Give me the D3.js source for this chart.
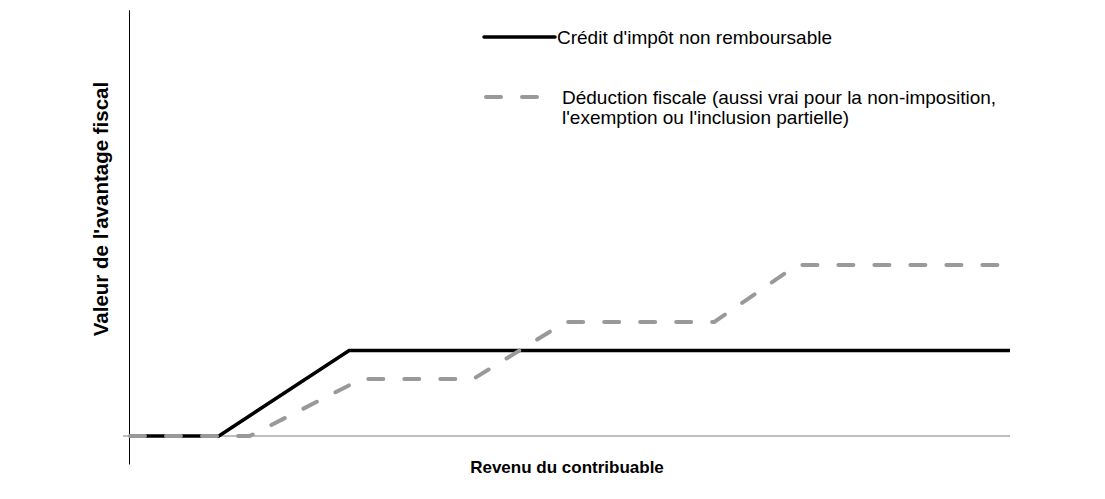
<!DOCTYPE html>
<html>
<head>
<meta charset="utf-8">
<script src="https://cdn.jsdelivr.net/npm/d3@7"></script>
<style>
  body { margin: 0; background: #fff; }
  text { font-family: "Liberation Sans", Arial, sans-serif; }
</style>
</head>
<body>
<div id="chart"></div>
<script>
// income (abstract units) and benefit value (abstract units)
var creditX = [0, 10.1, 24.9, 100];
var creditY = [0, 0, 1.5, 1.5];
var deductionX = [0, 13.6, 26.3, 39, 49.5, 66.4, 75.8, 98.9];
var deductionY = [0, 0, 1, 1, 2, 2, 3, 3];
var seriesNames = ["Crédit d'impôt non remboursable",
  "Déduction fiscale (aussi vrai pour la non-imposition,|l'exemption ou l'inclusion partielle)"];
var xTitle = "Revenu du contribuable";
var yTitle = "Valeur de l'avantage fiscal";

var W = 1105, H = 499;
var x = d3.scaleLinear().domain([0, 100]).range([130, 1010]);
var y = d3.scaleLinear().domain([0, 1]).range([436, 379]);

var svg = d3.select("#chart").append("svg")
  .attr("width", W).attr("height", H);

// axes
svg.append("line")
  .attr("x1", x(-0.8)).attr("x2", x(100))
  .attr("y1", y(0)).attr("y2", y(0))
  .attr("stroke", "#808080").attr("stroke-width", 1);
svg.append("line")
  .attr("x1", 129.5).attr("x2", 129.5)
  .attr("y1", y(7.47)).attr("y2", y(-0.5))
  .attr("stroke", "#000").attr("stroke-width", 1);

var line = d3.line()
  .x(function(d) { return x(d[0]); })
  .y(function(d) { return y(d[1]); });

var credit = creditX.map(function(v, i) { return [v, creditY[i]]; });
var deduction = deductionX.map(function(v, i) { return [v, deductionY[i]]; });

svg.append("path").datum(credit)
  .attr("d", line)
  .attr("fill", "none").attr("stroke", "#000")
  .attr("stroke-width", 3.5).attr("stroke-linejoin", "miter");

svg.append("path").datum(deduction)
  .attr("d", line)
  .attr("fill", "none").attr("stroke", "#999")
  .attr("stroke-width", 4).attr("stroke-linecap", "round")
  .attr("stroke-dasharray", "15,21");

// legend
svg.append("line")
  .attr("x1", 484).attr("x2", 555).attr("y1", 37).attr("y2", 37)
  .attr("stroke", "#000").attr("stroke-width", 3.5).attr("stroke-linecap", "round");
svg.append("text").attr("x", 557).attr("y", 44)
  .style("font-size", "19px").text(seriesNames[0]);

svg.append("line")
  .attr("x1", 486).attr("x2", 540).attr("y1", 97).attr("y2", 97)
  .attr("stroke", "#999").attr("stroke-width", 4).attr("stroke-linecap", "round")
  .attr("stroke-dasharray", "15,21");
var leg2 = svg.append("text").attr("x", 562).attr("y", 104)
  .style("font-size", "19px");
seriesNames[1].split("|").forEach(function(t, i) {
  leg2.append("tspan").attr("x", 562).attr("dy", i === 0 ? 0 : 20).text(t);
});

// axis titles
svg.append("text")
  .attr("x", 567).attr("y", 473)
  .attr("text-anchor", "middle")
  .style("font-size", "17px").style("font-weight", "bold")
  .text(xTitle);
svg.append("text")
  .attr("transform", "translate(108,209) rotate(-90)")
  .attr("text-anchor", "middle")
  .style("font-size", "20.5px").style("font-weight", "bold")
  .text(yTitle);
</script>
</body>
</html>
